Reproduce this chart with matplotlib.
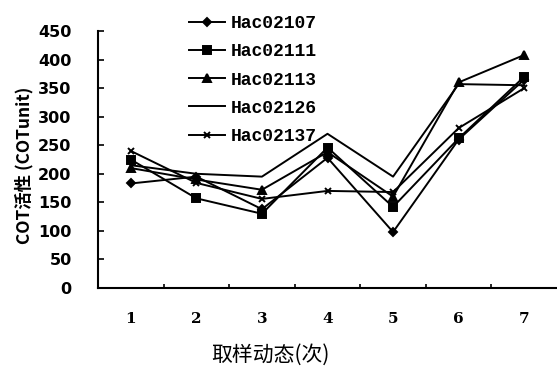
import matplotlib
matplotlib.use("Agg")
import matplotlib.pyplot as plt
from matplotlib.ticker import FixedLocator

# sampling rounds and COT activity per strain
rounds = [1, 2, 3, 4, 5, 6, 7]
hac02107 = [183, 195, 138, 228, 98, 260, 365]
hac02111 = [225, 157, 130, 246, 142, 262, 370]
hac02113 = [210, 190, 172, 238, 160, 360, 408]
hac02126 = [215, 200, 195, 270, 195, 357, 355]
hac02137 = [240, 184, 156, 170, 168, 280, 350]
names = ['Hac02107', 'Hac02111', 'Hac02113', 'Hac02126', 'Hac02137']
yticks = list(range(0, 451, 50))

fig = plt.figure(figsize=(5.57, 3.72), dpi=100)
ax = fig.add_axes([98/557, 1-288/372, 1-98/557, (288-31)/372])

series = [hac02107, hac02111, hac02113, hac02126, hac02137]
markers = ['D', 's', '^', '', 'x']
msizes = [4.5, 5.5, 5.5, 0, 5]
for vals, name, m, ms in zip(series, names, markers, msizes):
    ax.plot(rounds, vals, color='black', lw=1.4, marker=m if m else None,
            markersize=ms, markeredgewidth=1.4, label=name)

ax.set_xlim(0.5, 7.5)
ax.set_ylim(0, 450)
ax.spines['top'].set_visible(False)
ax.spines['right'].set_visible(False)
for s in ['left', 'bottom']:
    ax.spines[s].set_linewidth(1.5)

ax.set_yticks(yticks)
ax.set_yticklabels([str(v) for v in yticks], fontweight='bold', fontsize=11.5,
                   family='DejaVu Sans')
ax.tick_params(axis='y', direction='in', length=4, width=1.2, pad=19)
ax.set_xticks(rounds)
ax.set_xticklabels([str(r) for r in rounds], fontweight='bold', fontsize=11,
                   family='DejaVu Serif')
ax.tick_params(axis='x', which='major', length=0, pad=17)
ax.xaxis.set_minor_locator(FixedLocator([1.5, 2.5, 3.5, 4.5, 5.5, 6.5]))
ax.tick_params(axis='x', which='minor', direction='in', length=3, width=1.2)

fig.text(24/557, 1-165/372, 'COT活性 (COTunit)', rotation=90, ha='center',
         va='center', fontsize=12.5, fontweight='bold',
         family=['Noto Sans CJK SC', 'DejaVu Sans'])
fig.text(270/557, 1-355/372, '取样动态(次)', ha='center', va='center',
         fontsize=15, family=['Noto Sans CJK SC', 'DejaVu Sans'])

leg = ax.legend(loc='upper left', bbox_to_anchor=(182/557, 1-8/372),
                bbox_transform=fig.transFigure, frameon=False,
                prop={'family': 'Liberation Mono', 'weight': 'bold', 'size': 13},
                handlelength=2.0, handletextpad=0.3, labelspacing=0.62,
                borderaxespad=0)

fig.savefig('out.png', dpi=100)
